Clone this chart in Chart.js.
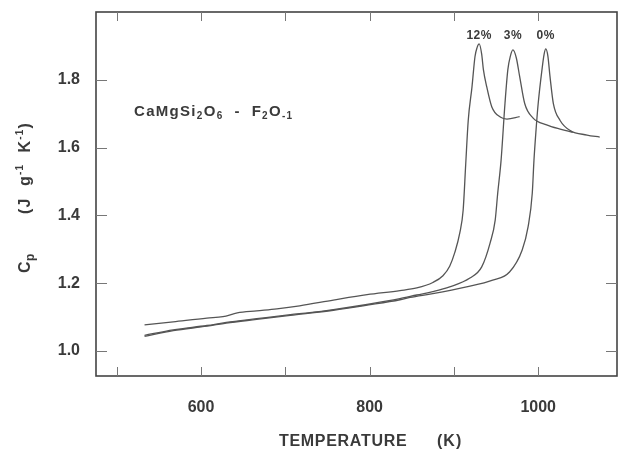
<!DOCTYPE html>
<html><head><meta charset="utf-8">
<script src="https://cdn.jsdelivr.net/npm/chart.js@4.4.1/dist/chart.umd.min.js"></script>
<style>html,body{margin:0;padding:0;background:#fff}#wrap{width:622px;height:452px}</style>
</head><body><div id="wrap"><canvas id="c" width="622" height="452"></canvas></div>
<script>
// ---- data ----
const seriesLabels = ['12%', '3%', '0%'];
const temp12 = [533, 567, 607, 626, 643, 666, 690, 717, 757, 797, 836, 856, 875, 887, 895, 901, 907, 911, 914, 917, 921.5, 925, 927.5, 930, 933, 935, 939, 945, 955, 963, 978];
const cp12   = [1.077, 1.086, 1.097, 1.101, 1.112, 1.118, 1.124, 1.133, 1.150, 1.166, 1.178, 1.186, 1.202, 1.222, 1.250, 1.290, 1.348, 1.416, 1.55, 1.68, 1.78, 1.868, 1.895, 1.906, 1.875, 1.83, 1.779, 1.72, 1.69, 1.684, 1.691];
const temp3  = [533, 567, 607, 630, 666, 706, 729, 757, 797, 836, 856, 875, 895, 919, 933, 943, 949, 952, 956, 960.6, 964, 967, 970, 974, 978, 984, 994, 1010, 1025, 1041];
const cp3    = [1.046, 1.062, 1.075, 1.084, 1.095, 1.107, 1.113, 1.122, 1.137, 1.154, 1.165, 1.175, 1.189, 1.215, 1.248, 1.319, 1.386, 1.466, 1.563, 1.73, 1.83, 1.87, 1.888, 1.865, 1.81, 1.73, 1.687, 1.667, 1.655, 1.645];
const temp0  = [533, 567, 607, 630, 666, 706, 757, 797, 836, 848, 875, 915, 946, 966, 981, 988, 993, 995, 997.4, 1000, 1004.5, 1007, 1009, 1011.5, 1014, 1018, 1026, 1038, 1058, 1073];
const cp0    = [1.043, 1.060, 1.073, 1.082, 1.093, 1.105, 1.120, 1.135, 1.151, 1.158, 1.169, 1.189, 1.209, 1.233, 1.298, 1.366, 1.466, 1.563, 1.65, 1.73, 1.83, 1.875, 1.891, 1.87, 1.81, 1.73, 1.68, 1.65, 1.637, 1.631];
const xLabelTicks = [600, 800, 1000];
const xMarkTicks  = [500, 600, 700, 800, 900, 1000];
const yTicks      = [1.0, 1.2, 1.4, 1.6, 1.8];
const xRange = [475.4, 1093.5];
const yRange = [0.926, 2.0];

const FONT = '"Liberation Sans", Arial, sans-serif';
const INK = '#3a3a3a';
const LINE = '#555555';

function pts(t, c) { return t.map((x, i) => ({ x: x, y: c[i] })); }

function drawRich(ctx, segs, x, y, spacing) {
  ctx.letterSpacing = (spacing || 0) + 'px';
  let cx = x;
  segs.forEach(s => {
    ctx.font = 'bold ' + s[1] + 'px ' + FONT;
    ctx.fillText(s[0], cx, y + (s[2] || 0));
    cx += ctx.measureText(s[0]).width;
  });
  ctx.letterSpacing = '0px';
  return cx - x;
}

function noPad(s) { s.paddingTop = 0; s.paddingBottom = 0; s.paddingLeft = 0; s.paddingRight = 0; }

const decor = {
  id: 'decor',
  afterDraw(chart) {
    const ctx = chart.ctx, a = chart.chartArea;
    const xs = chart.scales.x, ys = chart.scales.y;
    ctx.save();
    // frame
    ctx.strokeStyle = '#444'; ctx.lineWidth = 1.6;
    ctx.strokeRect(a.left, a.top, a.right - a.left, a.bottom - a.top);
    // inward tick marks
    ctx.lineWidth = 1; ctx.strokeStyle = '#777';
    ctx.beginPath();
    xMarkTicks.forEach(v => {
      const p = Math.round(xs.getPixelForValue(v)) + 0.5;
      ctx.moveTo(p, a.bottom); ctx.lineTo(p, a.bottom - 9);
      ctx.moveTo(p, a.top); ctx.lineTo(p, a.top + 9);
    });
    yTicks.forEach(v => {
      const p = Math.round(ys.getPixelForValue(v)) + 0.5;
      ctx.moveTo(a.left, p); ctx.lineTo(a.left + 11, p);
      ctx.moveTo(a.right, p); ctx.lineTo(a.right - 11, p);
    });
    ctx.stroke();
    // peak labels, placed above the highest peak level
    ctx.fillStyle = INK; ctx.textAlign = 'center'; ctx.textBaseline = 'alphabetic';
    ctx.font = 'bold 12px ' + FONT;
    ctx.letterSpacing = '0.5px';
    let top = Infinity;
    chart.data.datasets.forEach(ds => ds.data.forEach(p => { top = Math.min(top, ys.getPixelForValue(p.y)); }));
    chart.data.datasets.forEach(ds => {
      let best = ds.data[0];
      ds.data.forEach(p => { if (p.y > best.y) best = p; });
      ctx.fillText(ds.label, xs.getPixelForValue(best.x), top - 5);
    });
    ctx.letterSpacing = '0px';
    ctx.textAlign = 'left';
    // formula
    drawRich(ctx, [['CaMgSi', 15], ['2', 10, 3], ['O', 15], ['6', 10, 3], ['  -  ', 15], ['F', 15], ['2', 10, 3], ['O', 15], ['-1', 10, 3]], 134, 116, 1.3);
    // x title
    drawRich(ctx, [['TEMPERATURE', 16]], 279, 446, 0.7);
    drawRich(ctx, [['(K)', 16]], 437, 446, 1.0);
    // y title (rotated)
    ctx.translate(30, 0);
    ctx.rotate(-Math.PI / 2);
    drawRich(ctx, [['C', 16], ['p', 12, 4]], -273, 0, 0.5);
    drawRich(ctx, [['(J  g', 16], ['-1', 10, -7], ['  K', 16], ['-1', 10, -7], [')', 16]], -214, 0, 1.2);
    ctx.restore();
  }
};

new Chart(document.getElementById('c'), {
  type: 'scatter',
  data: {
    datasets: [
      { label: seriesLabels[0], data: pts(temp12, cp12) },
      { label: seriesLabels[1], data: pts(temp3, cp3) },
      { label: seriesLabels[2], data: pts(temp0, cp0) }
    ].map(d => Object.assign(d, {
      showLine: true, pointRadius: 0, borderColor: LINE, borderWidth: 1.3,
      cubicInterpolationMode: 'monotone', fill: false
    }))
  },
  options: {
    responsive: false, animation: false, devicePixelRatio: 1,
    layout: { padding: { top: 12, right: 5, left: 0, bottom: 0 } },
    plugins: { legend: { display: false }, tooltip: { enabled: false } },
    scales: {
      x: {
        type: 'linear', min: xRange[0], max: xRange[1],
        afterBuildTicks: s => { s.ticks = xLabelTicks.map(v => ({ value: v })); },
        afterFit: s => { s.height = 76; noPad(s); },
        grid: { display: false, drawTicks: false },
        border: { display: false },
        ticks: { color: INK, padding: 22, font: { family: FONT, size: 16, weight: 'bold' }, callback: v => String(v) }
      },
      y: {
        type: 'linear', min: yRange[0], max: yRange[1],
        afterBuildTicks: s => { s.ticks = yTicks.map(v => ({ value: v })); },
        afterFit: s => { s.width = 96; noPad(s); },
        grid: { display: false, drawTicks: false },
        border: { display: false },
        ticks: { color: INK, padding: 16, font: { family: FONT, size: 16, weight: 'bold' }, callback: v => Number(v).toFixed(1) }
      }
    }
  },
  plugins: [decor]
});
</script></body></html>
